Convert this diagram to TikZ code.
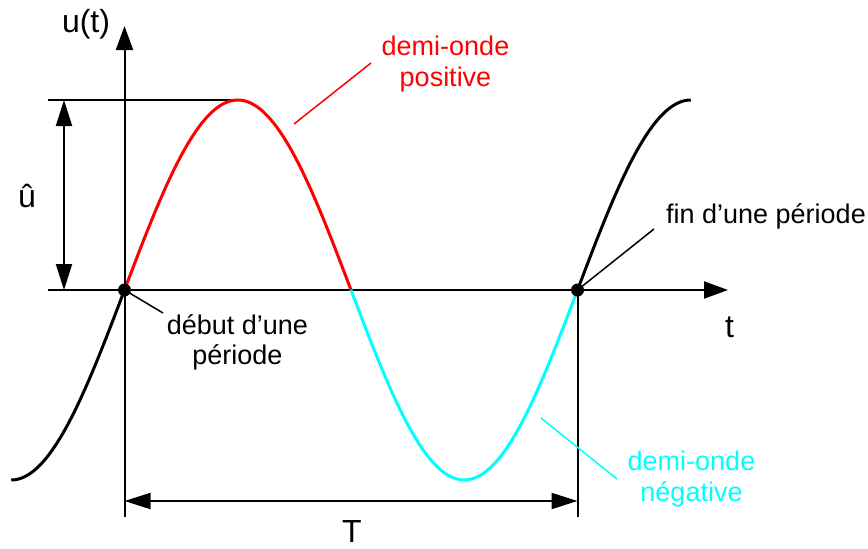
\documentclass[tikz,border=0pt]{standalone}
\usepackage{fontspec}
\setmainfont{Liberation Sans}
\usetikzlibrary{arrows.meta}
\definecolor{wred}{RGB}{255,0,0}
\definecolor{wcyan}{RGB}{0,255,255}
\begin{document}
\begin{tikzpicture}[x=1pt,y=-1pt,
  axisline/.style={line width=2pt,-{Triangle[length=24pt,width=17pt]}},
  thinline/.style={line width=2pt},
  dimline/.style={line width=2pt,{Triangle[length=26pt,width=16pt]}-{Triangle[length=26pt,width=16pt]}},
  curve/.style={line width=3pt},
  leader/.style={line width=1.5pt},
  dot/.style={circle,fill=black,inner sep=0pt,minimum size=13pt},
  annot/.style={inner sep=0pt,align=center,font=\fontsize{27}{31}\selectfont},
  lbl/.style={inner sep=0pt,anchor=base,font=\fontsize{32}{36}\selectfont}]
\useasboundingbox (0,0) rectangle (868,549);
% coordinates
\coordinate (xa0) at (48,290);
\coordinate (xa1) at (728,290);
\coordinate (ya0) at (124.5,517);
\coordinate (ya1) at (124.5,26);
\coordinate (vb) at (577.5,517);
\coordinate (h0) at (48,100);
\coordinate (peak) at (237.75,100);
\coordinate (ua) at (64,100);
\coordinate (ub) at (64,290);
\coordinate (Ta) at (124.5,501);
\coordinate (Tb) at (577.5,501);
\coordinate (posA) at (294,124);
\coordinate (posB) at (371,63);
\coordinate (negA) at (541,418);
\coordinate (negB) at (617,479);
\coordinate (debB) at (163,313);
\coordinate (finB) at (654,229);
% axes and guide lines
\draw[thinline] (h0) -- (peak);
\draw[axisline] (xa0) -- (xa1);
\draw[axisline] (ya0) -- (ya1);
\draw[thinline] (577.5,290) -- (vb);
\draw[dimline] (ua) -- (ub);
\draw[dimline] (Ta) -- (Tb);
% sine wave
\draw[curve,black] plot[domain=-113.25:0,samples=60,smooth] ({124.5+\x},{290-190*sin(\x/453*360)});
\draw[curve,wred] plot[domain=0:226.5,samples=100,smooth] ({124.5+\x},{290-190*sin(\x/453*360)});
\draw[curve,wcyan] plot[domain=226.5:453,samples=100,smooth] ({124.5+\x},{290-190*sin(\x/453*360)});
\draw[curve,black] plot[domain=453:566.25,samples=60,smooth] ({124.5+\x},{290-190*sin(\x/453*360)});
% dots
\node[dot] (start) at (124.5,290) {};
\node[dot] (end) at (577.5,290) {};
% leaders
\draw[leader] (start.center) -- (debB);
\draw[leader] (end.center) -- (finB);
\draw[leader,wred] (posA) -- (posB);
\draw[leader,wcyan] (negA) -- (negB);
% texts
\node[annot,text=wred] (posTxt) at (445.5,63.8) {demi-onde\\positive};
\node[annot,text=wcyan] (negTxt) at (691.5,478.8) {demi-onde\\négative};
\node[annot,font=\fontsize{27}{30.5}\selectfont] (debTxt) at (237.5,342.3) {début d’une\\période};
\node[annot,anchor=base] (finTxt) at (766,223) {fin d’une période};
\node[lbl] (ulbl) at (86,32) {u(t)};
\node[lbl] (uhat) at (27,207) {û};
\node[lbl] (tlbl) at (729.5,337) {t};
\node[lbl] (Tlbl) at (352,542) {T};
\end{tikzpicture}
\end{document}
